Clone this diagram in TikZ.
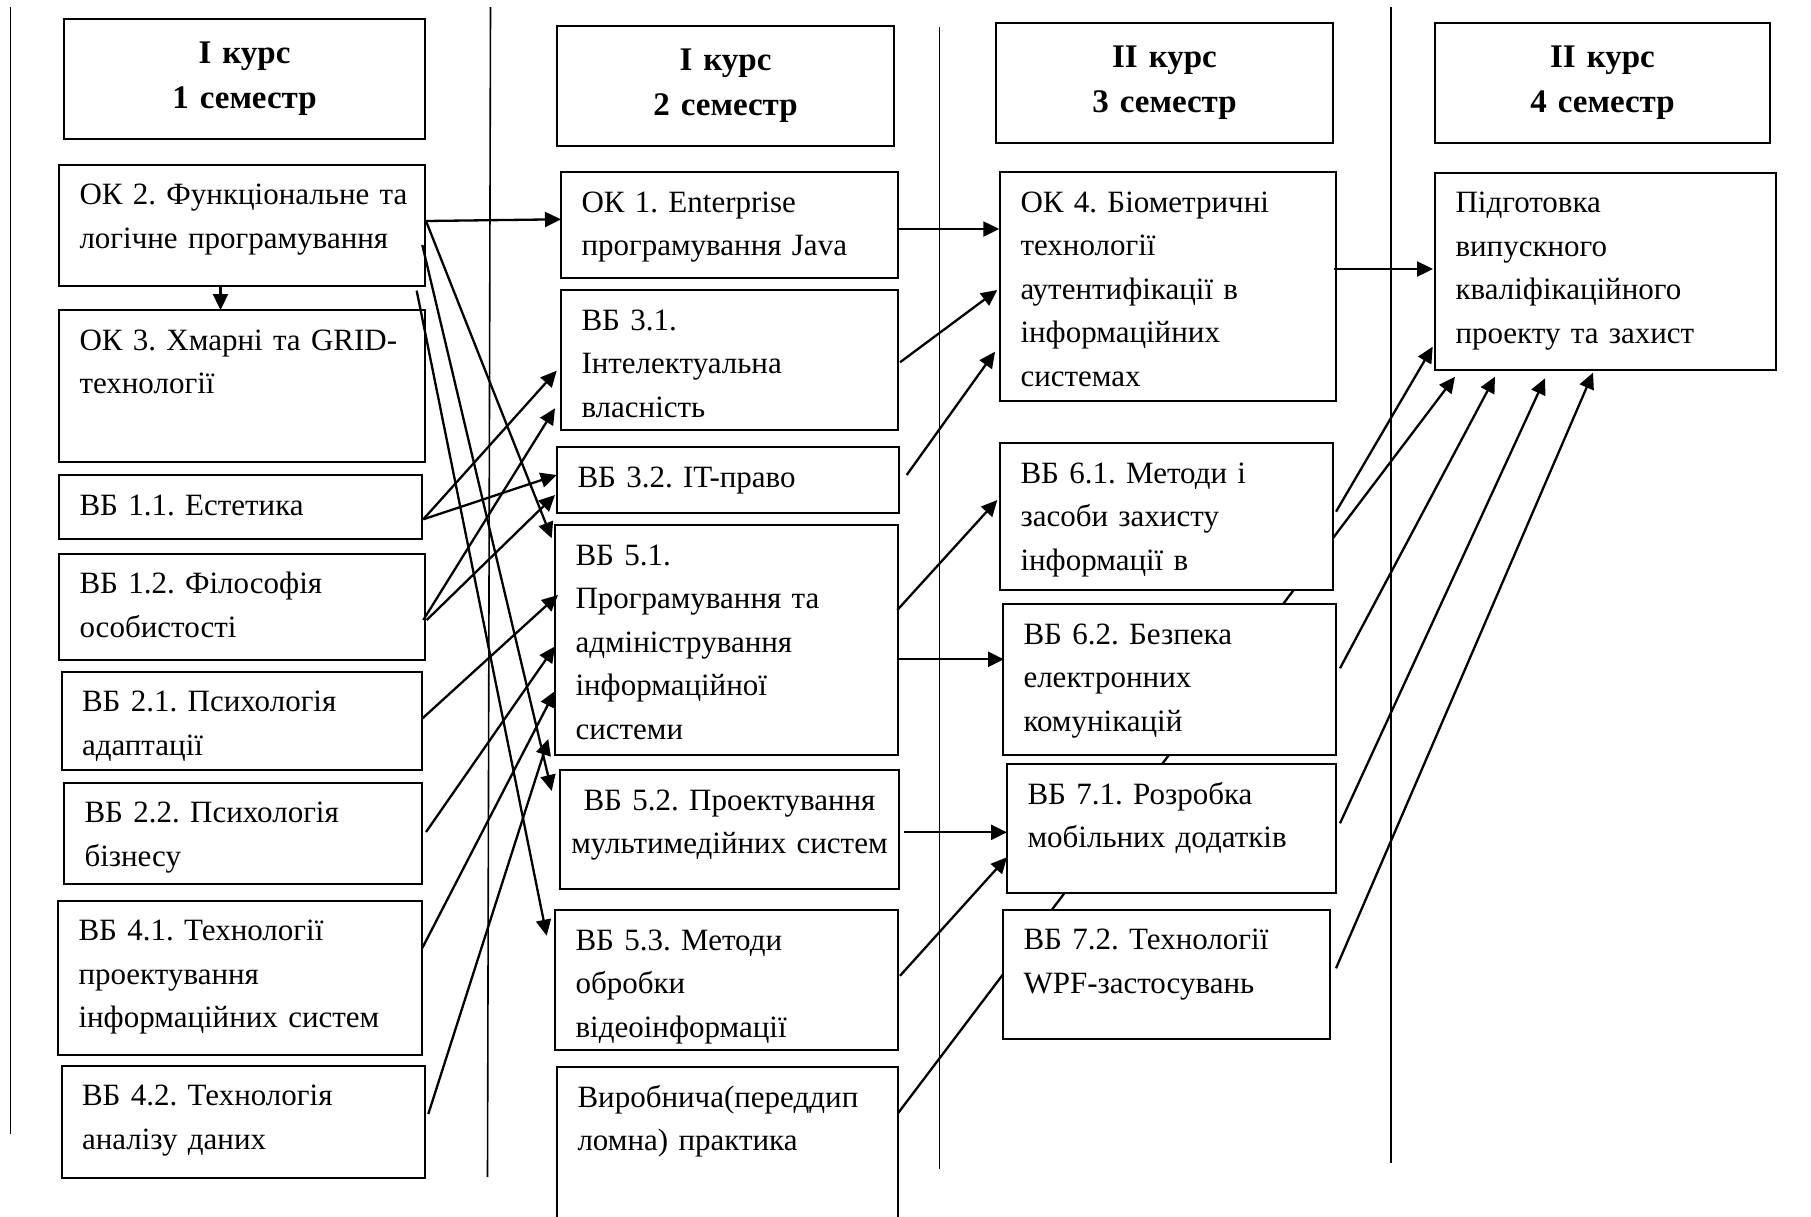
\documentclass[tikz,border=0pt]{standalone}
\usepackage{fontspec}
\setmainfont{Liberation Serif}
\frenchspacing
\usetikzlibrary{arrows.meta,calc,fit,backgrounds}
\newcommand\ubox[6]{%
  \node[box, fit={(#2,#3) (#4,#5)}] (#1) {};
  \node[txt, anchor=base west] (#1-t) at ($(#1.north west)+(20.5,40)$) {#6};}
\newcommand\hbx[6]{%
  \node[box, fit={(#2,#3) (#4,#5)}] (#1) {};
  \node[htxt, anchor=base] (#1-t) at ($(#1.north)+(0,44)$) {#6};}
\begin{document}
\begin{tikzpicture}[x=1pt,y=-1pt,
  box/.style={draw=black, line width=2pt, fill=white, inner sep=0pt, outer sep=0pt},
  txt/.style={inner sep=0pt, outer sep=0pt, text width=360pt, align=left, font=\fontsize{31}{43.5}\selectfont\frenchspacing},
  ctxt/.style={inner sep=0pt, outer sep=0pt, text width=340pt, align=center, font=\fontsize{31}{43.5}\selectfont\frenchspacing},
  htxt/.style={inner sep=0pt, outer sep=0pt, text width=330pt, align=center, font=\fontsize{33}{45}\selectfont\bfseries},
  conn/.style={line width=2.3pt, -{Triangle[length=16pt,width=15pt]}},
  divider/.style={line width=1.6pt}]
\useasboundingbox (0,0) rectangle (1811,1216);

% dividers
\draw[divider] (10.4,7) -- (10.4,1134);
\draw[divider] (490.5,7) -- (487.5,1177);
\draw[divider] (939.5,27) -- (939.5,1169);
\draw[divider] (1391,7) -- (1391,1163);

% headers
\hbx{h1}{64}{19}{425}{139}{І курс\\1 семестр}
\hbx{h2}{557}{26}{894}{146}{І курс\\2 семестр}
\hbx{h3}{996}{23}{1333}{143}{ІІ курс\\3 семестр}
\hbx{h4}{1435}{23}{1770}{143}{ІІ курс\\4 семестр}

% column 1
\ubox{ok2}{59}{164.5}{425}{285.5}{ОК 2. Функціональне та\\логічне програмування}
\ubox{ok3}{59}{310}{425}{462}{ОК 3. Хмарні та GRID-\\технології}
\ubox{b11}{59}{475}{422}{538.5}{ВБ 1.1. Естетика}
\ubox{b12}{59}{553.6}{425}{659.7}{ВБ 1.2. Філософія\\особистості}
\ubox{b21}{61.5}{671.5}{422}{770}{ВБ 2.1. Психологія\\адаптації}
\ubox{b22}{64}{782.7}{422}{883.7}{ВБ 2.2. Психологія\\бізнесу}
\ubox{b41}{58}{900.6}{422}{1055}{ВБ 4.1. Технології\\проектування\\інформаційних систем}
\ubox{b42}{61.5}{1065.6}{425}{1177.6}{ВБ 4.2. Технологія\\аналізу даних}

% column 2
\ubox{ok1}{561}{172}{898}{278}{ОК 1. Enterprise\\програмування Java}
\ubox{b31}{561}{290}{898}{430}{ВБ 3.1.\\Інтелектуальна\\власність}
\ubox{b32}{557}{447}{899}{513}{ВБ 3.2. IT-право}
\ubox{b51}{555}{525}{898}{755}{ВБ 5.1.\\Програмування та\\адміністрування\\інформаційної\\системи}
\node[box, fit={(560,770) (899,889)}] (b52) {};
\node[ctxt, anchor=base] (b52-t) at ($(b52.north)+(0,40)$) {ВБ 5.2. Проектування\\мультимедійних систем};
\ubox{b53}{555}{910}{898}{1050}{ВБ 5.3. Методи\\обробки\\відеоінформації}
\ubox{vyr}{557}{1067.3}{898}{1245}{Виробнича(переддип\\ломна) практика}

% column 3
\ubox{ok4}{1000}{172}{1336}{401}{ОК 4. Біометричні\\технології\\аутентифікації в\\інформаційних\\системах}
\ubox{b61}{1000}{443}{1333}{590}{ВБ 6.1. Методи і\\засоби захисту\\інформації в}
\ubox{b62}{1003}{604}{1336}{755}{ВБ 6.2. Безпека\\електронних\\комунікацій}
\ubox{b71}{1007}{764}{1336}{893}{ВБ 7.1. Розробка\\мобільних додатків}
\ubox{b72}{1003}{909.6}{1330}{1039}{ВБ 7.2. Технології\\WPF-застосувань}

% column 4
\ubox{pid}{1435}{172.7}{1775.6}{370}{Підготовка\\випускного\\кваліфікаційного\\проекту та захист}

% connector hidden behind boxes
\begin{scope}[on background layer]
\draw[conn] ($(vyr.north east)+(0.3,45.5)$) -- ($(pid.south west)+(20,6.7)$);
\end{scope}

% connectors
\draw[conn] ($(ok2.north east)+(1,56.5)$) -- ($(ok1.north west)+(0,47.3)$);
\draw[conn] ($(ok2.south west)+(161.5,0)$) -- ($(ok3.north west)+(161.5,0)$);
\draw[conn] ($(ok2.north east)+(1,56.5)$) -- ($(b51.north west)+(-3.3,13.3)$);
\draw[conn] ($(ok2.north east)+(-2.7,80.5)$) -- ($(b52.north west)+(-8.3,21)$);
\draw[conn] ($(ok3.north east)+(-8.3,-19.3)$) -- ($(b53.north west)+(-8.3,25.7)$);
\draw[conn] ($(b11.north east)+(1.3,44.3)$) -- ($(b31.north west)+(-4.3,80.7)$);
\draw[conn] ($(b11.north east)+(1.3,44.3)$) -- ($(b32.north west)+(-0.3,28)$);
\draw[conn] ($(b12.north east)+(-1.7,66.4)$) -- ($(b31.north west)+(-6,118.3)$);
\draw[conn] ($(b12.north east)+(1.7,66.4)$) -- ($(b32.north west)+(-2,48)$);
\draw[conn] ($(b21.north east)+(0.3,47)$) -- ($(b51.north west)+(3,70)$);
\draw[conn] ($(b22.north east)+(4,49.3)$) -- ($(b51.north west)+(0,121.4)$);
\draw[conn] ($(b41.north east)+(0.3,47.4)$) -- ($(b51.north west)+(0,166)$);
\draw[conn] ($(b42.north east)+(3.3,48.4)$) -- ($(b51.north west)+(-6.7,214)$);
\draw[conn] ($(ok1.north east)+(0.3,57)$) -- ($(ok4.north west)+(-0.7,57)$);
\draw[conn] ($(b31.north east)+(2,72.3)$) -- ($(ok4.north west)+(-2.7,118)$);
\draw[conn] ($(b32.north east)+(7.7,28)$) -- ($(ok4.north west)+(-5,179.7)$);
\draw[conn] ($(b51.north east)+(-0.7,85)$) -- ($(b61.north west)+(-2.7,57)$);
\draw[conn] ($(b51.north east)+(0.3,134.3)$) -- ($(b62.north west)+(1,55.3)$);
\draw[conn] ($(b52.north east)+(5,62.3)$) -- ($(b71.north west)+(0,68.3)$);
\draw[conn] ($(b53.north east)+(2,65.8)$) -- ($(b71.north west)+(0,93.2)$);
\draw[conn] ($(ok4.north east)+(-2,97)$) -- ($(pid.north west)+(-2,96.3)$);
\draw[conn] ($(b61.north east)+(3,68.7)$) -- ($(pid.south west)+(-2.3,-23.3)$);
\draw[conn] ($(b62.north east)+(4,64.3)$) -- ($(pid.south west)+(60,6.7)$);
\draw[conn] ($(b71.north east)+(4,59.3)$) -- ($(pid.south west)+(110,8.3)$);
\draw[conn] ($(b72.north east)+(6,58.7)$) -- ($(pid.south west)+(158,2.7)$);
\end{tikzpicture}
\end{document}
